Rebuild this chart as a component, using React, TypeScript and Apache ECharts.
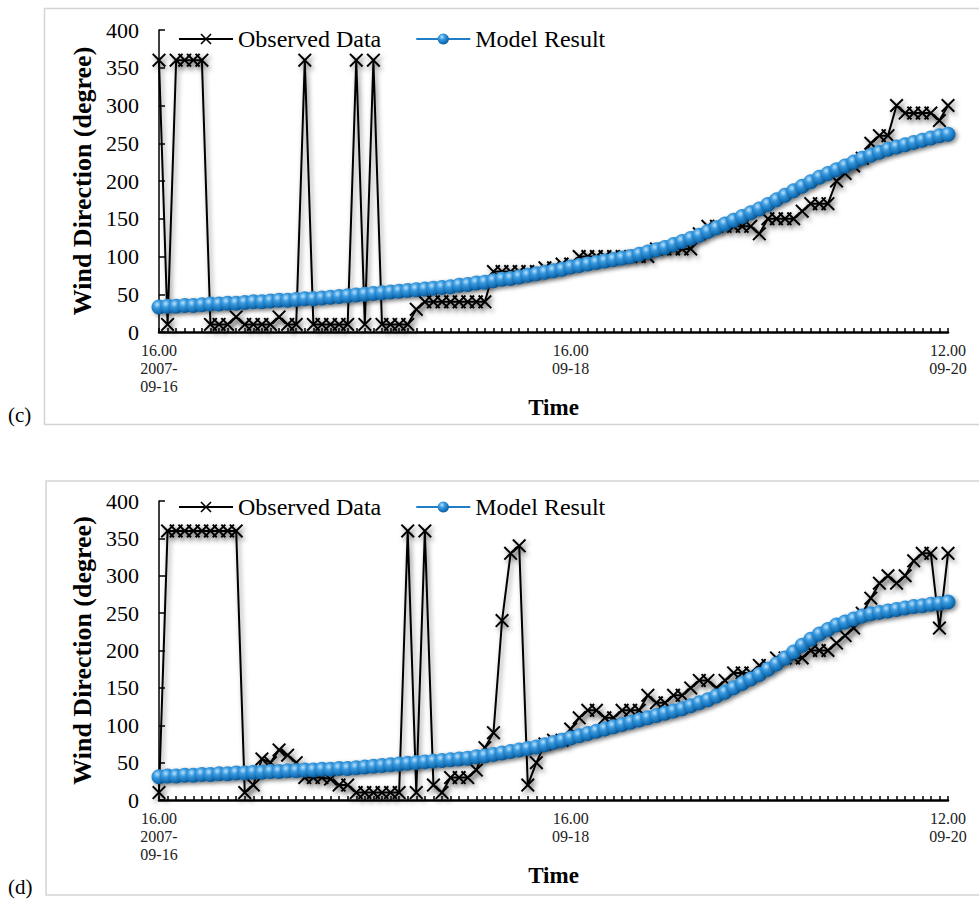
import React, { useEffect, useRef } from "react";
import * as echarts from "echarts";

// hourly time steps from 2007-09-16 16:00 to 2007-09-20 12:00
const hourIndex: string[] = Array.from({ length: 93 }, (_, i) => String(i));
const xTickLabels: Record<number, string> = {
  0: "16.00\n2007-\n09-16",
  48: "16.00\n09-18",
  92: "12.00\n09-20",
};
const yMin = 0;
const yMax = 400;
const yStep = 50;

const legendNames = ["Observed Data", "Model Result"];

const observedC = [
  360, 10, 360, 360, 360, 360, 10, 10, 10, 20,
  10, 10, 10, 10, 20, 10, 10, 360, 10, 10,
  10, 10, 10, 360, 10, 360, 10, 10, 10, 10,
  30, 40, 40, 40, 40, 40, 40, 40, 40, 80,
  80, 80, 80, 80, 80, 85, 85, 90, 90, 100,
  100, 100, 100, 100, 100, 100, 100, 100, 110, 110,
  110, 110, 110, 130, 140, 140, 140, 140, 140, 140,
  130, 150, 150, 150, 150, 160, 170, 170, 170, 200,
  210, 220, 230, 250, 260, 260, 300, 290, 290, 290,
  290, 280, 300,
];

const modelC = [
  33, 34, 34, 35, 35, 36, 37, 37, 38, 38,
  39, 40, 40, 41, 42, 42, 43, 44, 44, 45,
  46, 47, 48, 49, 50, 51, 52, 53, 54, 55,
  56, 57, 58, 59, 60, 62, 63, 65, 66, 68,
  70, 71, 73, 75, 77, 79, 81, 83, 86, 88,
  90, 92, 94, 96, 98, 100, 103, 106, 109, 112,
  116, 120, 124, 128, 133, 138, 143, 148, 153, 158,
  163, 169, 175, 181, 187, 193, 199, 205, 210, 215,
  220, 225, 230, 234, 238, 242, 245, 248, 251, 254,
  257, 260, 262,
];

const observedD = [
  10, 360, 360, 360, 360, 360, 360, 360, 360, 360,
  10, 20, 55, 50, 67, 60, 50, 30, 30, 30,
  28, 20, 20, 10, 10, 10, 10, 10, 10, 360,
  10, 360, 20, 10, 30, 30, 30, 40, 70, 90,
  240, 330, 340, 20, 50, 75, 80, 80, 95, 110,
  120, 120, 110, 110, 120, 120, 120, 140, 130, 130,
  140, 140, 150, 160, 160, 150, 160, 170, 170, 170,
  180, 180, 190, 190, 190, 190, 200, 200, 200, 210,
  220, 230, 250, 270, 290, 300, 290, 300, 320, 330,
  330, 230, 330,
];

const modelD = [
  31, 32, 32, 33, 33, 34, 34, 35, 35, 36,
  36, 37, 37, 38, 38, 39, 39, 40, 40, 41,
  41, 42, 42, 43, 44, 45, 46, 47, 48, 49,
  50, 51, 52, 53, 54, 55, 56, 58, 59, 61,
  63, 65, 67, 69, 71, 74, 77, 80, 83, 86,
  89, 92, 95, 98, 101, 104, 107, 110, 113, 116,
  119, 122, 126, 130, 134, 139, 144, 150, 156, 162,
  168, 175, 182, 190, 198, 207, 215, 222, 228, 234,
  238, 242, 246, 249, 251, 253, 255, 257, 259, 260,
  262, 263, 265,
];

const FONT = "Liberation Serif";
const CROSS =
  "path://M1,0 L5,4 L9,0 L10,1 L6,5 L10,9 L9,10 L5,6 L1,10 L0,9 L4,5 L0,1 Z";

function sphereColor() {
  return new echarts.graphic.RadialGradient(0.38, 0.32, 0.7, [
    { offset: 0, color: "#b8e2ff" },
    { offset: 0.35, color: "#3b9be0" },
    { offset: 0.8, color: "#1370b8" },
    { offset: 1, color: "#0b5690" },
  ]);
}

function makeAxes(gridIndex: number) {
  const xAxis = {
    type: "category",
    gridIndex,
    data: hourIndex,
    boundaryGap: false,
    name: "Time",
    nameLocation: "middle",
    nameGap: 62,
    nameTextStyle: { fontFamily: FONT, fontWeight: "bold", fontSize: 23, color: "#000" },
    axisLine: { lineStyle: { color: "#000", width: 2.5 } },
    axisTick: { show: true, inside: true, length: 4, interval: 0, lineStyle: { color: "#000", width: 1.5 } },
    axisLabel: {
      interval: (idx: number) => xTickLabels[idx] !== undefined,
      formatter: (_v: string, idx: number) => xTickLabels[idx] ?? "",
      fontFamily: FONT,
      fontSize: 16,
      lineHeight: 18,
      color: "#222",
      margin: 9,
      showMinLabel: true,
      showMaxLabel: true,
    },
    splitLine: { show: false },
  };
  const yAxis = {
    type: "value",
    gridIndex,
    min: yMin,
    max: yMax,
    interval: yStep,
    name: "Wind Direction (degree)",
    nameLocation: "middle",
    nameGap: 62,
    nameTextStyle: { fontFamily: FONT, fontWeight: "bold", fontSize: 26, color: "#000" },
    axisLine: { show: true, lineStyle: { color: "#000", width: 1.5 } },
    axisTick: { show: true, inside: true, length: 6, lineStyle: { color: "#000", width: 1.5 } },
    axisLabel: { fontFamily: FONT, fontSize: 22, color: "#000", margin: 20 },
    splitLine: { show: false },
  };
  return { xAxis, yAxis };
}

function makeSeries(gridIndex: number, obs: number[], mod: number[]) {
  return [
    {
      name: "Observed Data",
      type: "line",
      xAxisIndex: gridIndex,
      yAxisIndex: gridIndex,
      data: obs,
      symbol: CROSS,
      symbolSize: 14,
      showAllSymbol: true,
      lineStyle: {
        color: "#000",
        width: 2,
        shadowColor: "rgba(0,0,0,0.45)",
        shadowBlur: 5,
        shadowOffsetX: 2,
        shadowOffsetY: 3,
      },
      itemStyle: {
        color: "#000",
        shadowColor: "rgba(0,0,0,0.5)",
        shadowBlur: 5,
        shadowOffsetX: 2,
        shadowOffsetY: 3,
      },
      z: 2,
    },
    {
      name: "Model Result",
      type: "line",
      xAxisIndex: gridIndex,
      yAxisIndex: gridIndex,
      data: mod,
      symbol: "circle",
      symbolSize: 15,
      showAllSymbol: true,
      lineStyle: { color: "#1f7ec6", width: 3 },
      itemStyle: {
        color: sphereColor(),
        shadowColor: "rgba(0,0,0,0.45)",
        shadowBlur: 4,
        shadowOffsetX: 2,
        shadowOffsetY: 2,
      },
      z: 3,
    },
  ];
}

export default function App() {
  const ref = useRef<HTMLDivElement>(null);
  useEffect(() => {
    if (!ref.current) return;
    const chart = echarts.init(ref.current, undefined, { renderer: "svg" });
    const a0 = makeAxes(0);
    const a1 = makeAxes(1);
    const legendBase = {
      itemWidth: 54,
      itemHeight: 14,
      itemGap: 34,
      padding: 0,
      textStyle: { fontFamily: FONT, fontSize: 24, color: "#000" },
      data: [
        { name: legendNames[0], itemStyle: { color: "#000", shadowBlur: 0, shadowOffsetX: 0, shadowOffsetY: 0 }, lineStyle: { shadowBlur: 0, shadowOffsetX: 0, shadowOffsetY: 0 } },
        { name: legendNames[1], itemStyle: { shadowBlur: 0, shadowOffsetX: 0, shadowOffsetY: 0 } },
      ],
      selectedMode: false,
    };
    chart.setOption({
      animation: false,
      backgroundColor: "#fff",
      textStyle: { fontFamily: FONT },
      grid: [
        { left: 159, top: 30, width: 789, height: 302 },
        { left: 159, top: 501, width: 789, height: 299 },
      ],
      xAxis: [a0.xAxis, a1.xAxis],
      yAxis: [a0.yAxis, a1.yAxis],
      legend: [
        { ...legendBase, left: 178, top: 27 },
        { ...legendBase, left: 178, top: 495 },
      ],
      graphic: [
        {
          type: "rect",
          shape: { x: 44.5, y: 8.5, width: 960, height: 416 },
          style: { fill: "none", stroke: "#d4d4d4", lineWidth: 1.5 },
          silent: true,
        },
        {
          type: "rect",
          shape: { x: 46, y: 481, width: 960, height: 414 },
          style: { fill: "none", stroke: "#d4d4d4", lineWidth: 1.5 },
          silent: true,
        },
        {
          type: "text",
          left: 8,
          top: 404,
          style: { text: "(c)", fontFamily: FONT, fontSize: 21, fill: "#000" },
        },
        {
          type: "text",
          left: 8,
          top: 876,
          style: { text: "(d)", fontFamily: FONT, fontSize: 21, fill: "#000" },
        },
      ],
      series: [
        ...makeSeries(0, observedC, modelC),
        ...makeSeries(1, observedD, modelD),
      ],
    });
    return () => chart.dispose();
  }, []);
  return (
    <div
      ref={ref}
      style={{ position: "absolute", left: 0, top: 0, width: 979, height: 901 }}
    />
  );
}
